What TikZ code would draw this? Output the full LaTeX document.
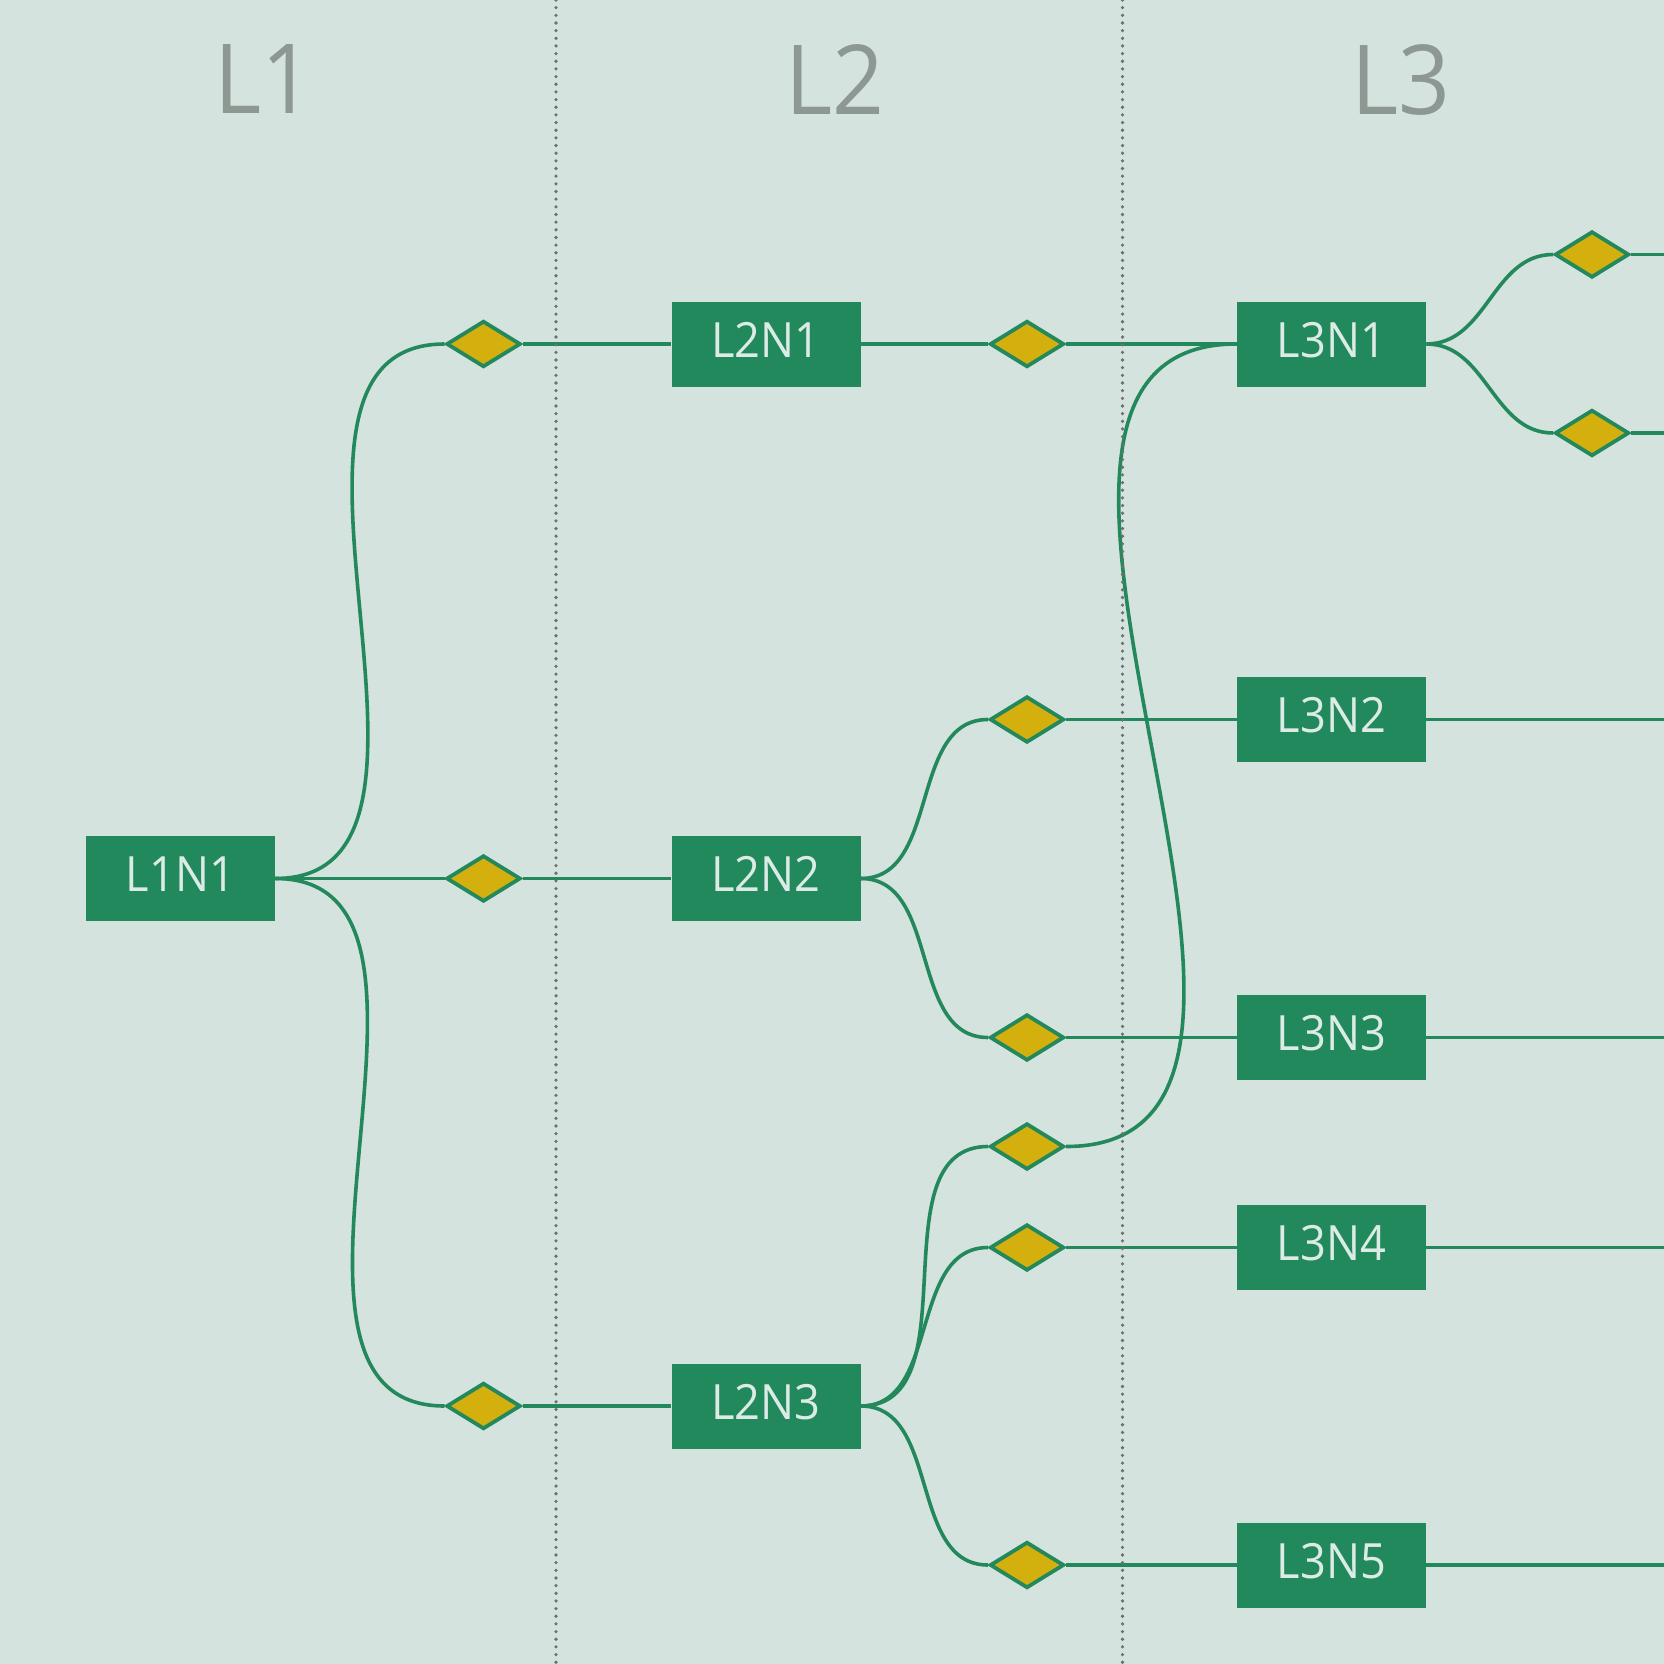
\documentclass[tikz,border=0pt]{standalone}
\usepackage{fontspec}
\setmainfont{Open Sans}
\newfontfamily\boxfont[FakeStretch=0.93]{Open Sans}
\newfontfamily\headfont[FakeStretch=0.94]{Open Sans}
\usetikzlibrary{shapes.geometric}
\definecolor{bgc}{HTML}{D5E3DE}
\definecolor{boxc}{HTML}{21895C}
\definecolor{edgec}{HTML}{23885C}
\definecolor{diac}{HTML}{D4B00F}
\definecolor{boxtext}{HTML}{DCEBE5}
\definecolor{headc}{HTML}{8E9893}
\definecolor{sepc}{HTML}{6C7170}
\tikzset{
  stepbox/.style={rectangle, fill=boxc, text=boxtext, minimum width=94.5pt, minimum height=42.5pt,
    inner sep=0pt, text height=17.3pt, text depth=4pt, font=\boxfont\fontsize{24.3}{29}\selectfont},
  gate/.style={diamond, draw=edgec, fill=diac, line width=1.9pt, minimum width=37.1pt, minimum height=23.1pt, inner sep=0pt},
  lanehead/.style={text=headc, inner sep=0pt, font=\headfont\fontsize{48.3}{58}\selectfont},
  link/.style={draw=edgec, line width=1.8pt},
  sepline/.style={draw=sepc, line width=1.8pt, line cap=round, dash pattern=on 0pt off 3.83pt}
}
\begin{document}
\begin{tikzpicture}[x=0.5pt, y=-0.5pt]
\fill[bgc] (0,0) rectangle (1664,1664);
\useasboundingbox (0,0) rectangle (1664,1664);
% headers
\node[lanehead] (H1) at (264,79.5) {L1};
\node[lanehead] (H2) at (835,79.5) {L2};
\node[lanehead] (H3) at (1401,79.5) {L3};
% boxes
\node[stepbox] (L1N1) at (180.5,878.5) {L1N1};
\node[stepbox] (L2N1) at (766,344) {L2N1};
\node[stepbox] (L2N2) at (766,878.5) {L2N2};
\node[stepbox] (L2N3) at (766,1406) {L2N3};
\node[stepbox] (L3N1) at (1331.5,344) {L3N1};
\node[stepbox] (L3N2) at (1331.5,719.5) {L3N2};
\node[stepbox] (L3N3) at (1331.5,1037.5) {L3N3};
\node[stepbox] (L3N4) at (1331.5,1247.5) {L3N4};
\node[stepbox] (L3N5) at (1331.5,1565) {L3N5};
% diamonds
\node[gate] (D1a) at (483.5,344) {};
\node[gate] (D1b) at (483.5,878.5) {};
\node[gate] (D1c) at (483.5,1406) {};
\node[gate] (D2a) at (1027,344) {};
\node[gate] (D2b) at (1027,719.5) {};
\node[gate] (D2c) at (1027,1037.5) {};
\node[gate] (D2d) at (1027,1146.5) {};
\node[gate] (D2e) at (1027,1247.5) {};
\node[gate] (D2f) at (1027,1565) {};
\node[gate] (D3a) at (1592,254.5) {};
\node[gate] (D3b) at (1592,433) {};
% right-edge ends
\coordinate (E3a) at (1664,254.5);
\coordinate (E3b) at (1664,433);
\coordinate (E2) at (1664,719.5);
\coordinate (E3) at (1664,1037.5);
\coordinate (E4) at (1664,1247.5);
\coordinate (E5) at (1664,1565);
% separator ends
\coordinate (S1t) at (556,0);
\coordinate (S1b) at (556,1664);
\coordinate (S2t) at (1122.5,0);
\coordinate (S2b) at (1122.5,1664);
% connectors
\path[link] (L1N1.east) to[out=0,in=180] (D1a.west);
\path[link] (L1N1.east) to[out=0,in=180] (D1b.west);
\path[link] (L1N1.east) to[out=0,in=180] (D1c.west);
\path[link] (D1a.east) -- (L2N1.west);
\path[link] (D1b.east) -- (L2N2.west);
\path[link] (D1c.east) -- (L2N3.west);
\path[link] (L2N1.east) -- (D2a.west);
\path[link] (L2N2.east) to[out=0,in=180] (D2b.west);
\path[link] (L2N2.east) to[out=0,in=180] (D2c.west);
\path[link] (L2N3.east) to[out=0,in=180] (D2d.west);
\path[link] (L2N3.east) to[out=0,in=180] (D2e.west);
\path[link] (L2N3.east) to[out=0,in=180] (D2f.west);
\path[link] (D2a.east) -- (L3N1.west);
\path[link] (D2d.east) to[out=0,in=180] (L3N1.west);
\path[link] (D2b.east) -- (L3N2.west);
\path[link] (D2c.east) -- (L3N3.west);
\path[link] (D2e.east) -- (L3N4.west);
\path[link] (D2f.east) -- (L3N5.west);
\path[link] (L3N1.east) to[out=0,in=180] (D3a.west);
\path[link] (L3N1.east) to[out=0,in=180] (D3b.west);
\path[link] (D3a.east) -- (E3a);
\path[link] (D3b.east) -- (E3b);
\path[link] (L3N2.east) -- (E2);
\path[link] (L3N3.east) -- (E3);
\path[link] (L3N4.east) -- (E4);
\path[link] (L3N5.east) -- (E5);
% lane separators
\path[sepline] (S1t) -- (S1b);
\path[sepline] (S2t) -- (S2b);
\end{tikzpicture}
\end{document}
